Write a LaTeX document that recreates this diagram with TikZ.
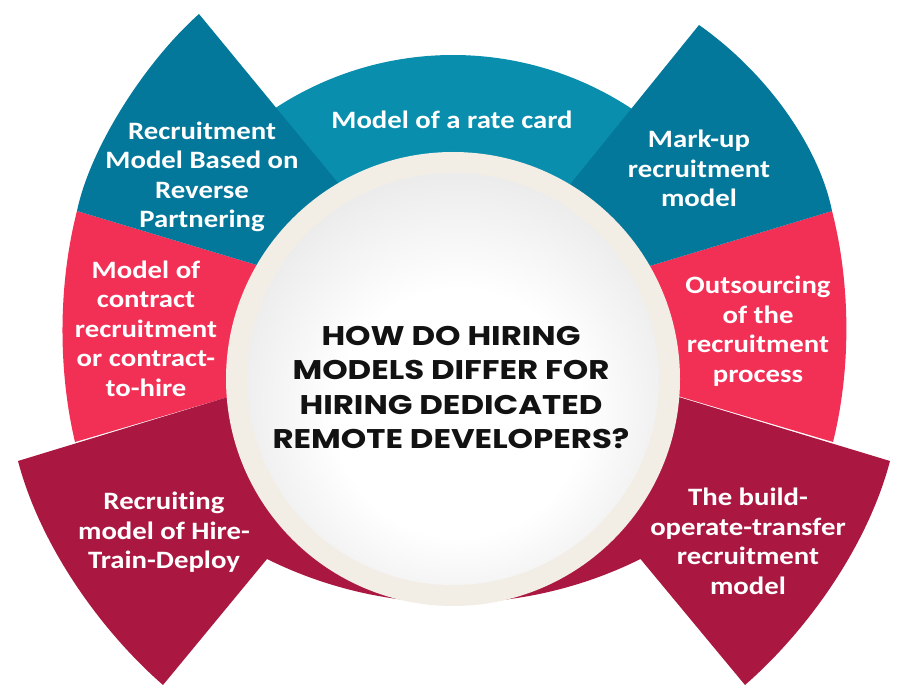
\documentclass[tikz,border=0pt]{standalone}
\usepackage{fontspec}
\setmainfont{Carlito}[FakeStretch=1.15, Ligatures=NoCommon]
\newfontfamily\titlefont{Poppins}[FakeStretch=1.2]
\definecolor{tealdark}{HTML}{04789A}
\definecolor{tealmid}{HTML}{0A8EAD}
\definecolor{pinkseg}{HTML}{F22F55}
\definecolor{crimson}{HTML}{AA1842}
\definecolor{cream}{HTML}{F3EEE5}
\pgfdeclareradialshading{ballshade}{\pgfpoint{1bp}{-6bp}}{color(0bp)=(white); color(15bp)=(white); color(30bp)=(black!9); color(42bp)=(black!30); color(50bp)=(black!58)}
\tikzset{
  lbl/.style={text=white, font=\fontsize{25}{29.5}\selectfont\bfseries, align=center, inner sep=0pt},
  ttl/.style={text=black!93, font=\titlefont\fontsize{27}{34.5}\selectfont\bfseries, align=center, inner sep=0pt}
}
\begin{document}
\begin{tikzpicture}[x=1pt,y=-1pt]
\useasboundingbox (0,0) rectangle (900,700);
% pink side segments
\fill[pinkseg] (77,211) .. controls (58,285) and (58,370) .. (75,442) -- (320,370) -- (320,284) -- cycle;
\fill[pinkseg] (832,211) .. controls (851,285) and (851,370) .. (833,442) -- (590,370) -- (590,284) -- cycle;
% top rate card segment
\fill[tealmid] (453,379) -- ++(215:324) arc[start angle=215, end angle=325, radius=324] -- cycle;
% teal petals
\fill[tealdark] (77,211) .. controls (90,148) and (145,62) .. (199,14) -- (380,234) -- (320,284) -- cycle;
\fill[tealdark] (832,211) .. controls (820,150) and (770,75) .. (699,25) -- (530,234) -- (590,284) -- cycle;
% crimson lower segments
\fill[crimson] (300,375) -- (18,461) .. controls (40,545) and (100,630) .. (163,685) -- (267,559)
  arc[start angle=116.4, end angle=63.6, radius=420] -- (745,685)
  .. controls (808,630) and (868,545) .. (890,461) -- (606,375) -- cycle;
% central circle
\fill[cream] (453,379) circle[radius=227];
\shade[shading=ballshade] (453,379) circle[radius=206];
% labels
\node[lbl] (rev) at (202,177) {Recruitment\\Model Based on\\Reverse\\Partnering};
\node[lbl] (rate) at (452,120) {Model of a rate card};
\node[lbl] (mark) at (699,168.5) {Mark-up\\recruitment\\model};
\node[lbl] (contract) at (146,328.5) {Model of\\contract\\recruitment\\or contract-\\to-hire};
\node[lbl] (outs) at (758,331) {Outsourcing\\of the\\recruitment\\process};
\node[lbl] (htd) at (164,532.5) {Recruiting\\model of Hire-\\Train-Deploy};
\node[lbl] (bot) at (748,541.5) {The build-\\operate-transfer\\recruitment\\model};
\node[ttl] (title) at (451,387.5) {HOW DO HIRING\\MODELS DIFFER FOR\\HIRING DEDICATED\\REMOTE DEVELOPERS?};
\end{tikzpicture}
\end{document}
